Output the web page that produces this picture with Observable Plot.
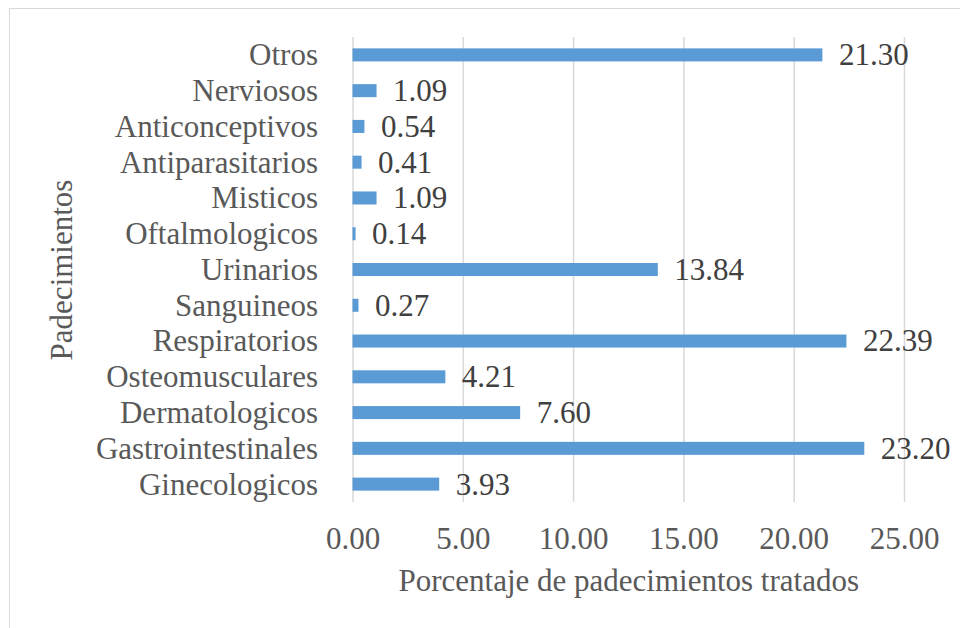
<!DOCTYPE html>
<html>
<head>
<meta charset="utf-8">
<script src="https://cdn.jsdelivr.net/npm/d3@7"></script>
<script src="https://cdn.jsdelivr.net/npm/@observablehq/plot@0.6"></script>
<style>
  html, body { margin: 0; padding: 0; background: #fff; overflow: hidden; }
  #wrap { position: relative; width: 960px; height: 628px; }
  #border { position: absolute; left: 9px; top: 8px; width: 1000px; height: 700px;
            border: 1.5px solid #d9d9d9; pointer-events: none; }
  svg, svg text { font-family: "Liberation Serif", "DejaVu Serif", "Noto Serif", "Times New Roman", serif !important; }
</style>
</head>
<body>
<div id="wrap"><div id="border"></div></div>
<script>
const categories = ["Otros", "Nerviosos", "Anticonceptivos", "Antiparasitarios", "Misticos",
  "Oftalmologicos", "Urinarios", "Sanguineos", "Respiratorios", "Osteomusculares",
  "Dermatologicos", "Gastrointestinales", "Ginecologicos"];
const values = [21.30, 1.09, 0.54, 0.41, 1.09, 0.14, 13.84, 0.27, 22.39, 4.21, 7.60, 23.20, 3.93];
const xTicks = [0, 5, 10, 15, 20, 25];
const xLabel = "Porcentaje de padecimientos tratados";
const yLabel = "Padecimientos";

const data = categories.map((c, i) => ({category: c, value: values[i]}));
const FONT = "Liberation Serif, DejaVu Serif, serif";

const chart = Plot.plot({
  width: 960,
  height: 628,
  marginLeft: 352.5,
  marginRight: 56,
  marginTop: 37,
  marginBottom: 126,
  style: {fontFamily: FONT, fontSize: "31px", background: "transparent"},
  x: {domain: [0, 25], ticks: xTicks},
  y: {domain: categories, paddingInner: 0.636, paddingOuter: 0.318, round: false},
  marks: [
    Plot.gridX(xTicks, {stroke: "#d9d9d9", strokeOpacity: 1, strokeWidth: 1.5}),
    Plot.barX(data, {x: "value", y: "category", fill: "#5B9BD5"}),
    Plot.text(data, {x: "value", y: "category", text: d => d.value.toFixed(2),
      textAnchor: "start", dx: 16, fill: "#404040", fontSize: 31, fontFamily: FONT}),
    Plot.axisX({ticks: xTicks, tickSize: 0, tickPadding: 24, tickFormat: d => d.toFixed(2),
      fill: "#595959", fontSize: 31, fontFamily: FONT, label: null}),
    Plot.axisY({tickSize: 0, tickPadding: 35, fill: "#595959", fontSize: 31, fontFamily: FONT, label: null}),
    Plot.text([xLabel], {frameAnchor: "bottom", dy: 88, fill: "#595959", fontSize: 31, fontFamily: FONT}),
    Plot.text([yLabel], {frameAnchor: "left", textAnchor: "middle", dx: -290.5, rotate: -90,
      fill: "#595959", fontSize: 31, fontFamily: FONT})
  ]
});
document.getElementById("wrap").prepend(chart);
</script>
</body>
</html>
